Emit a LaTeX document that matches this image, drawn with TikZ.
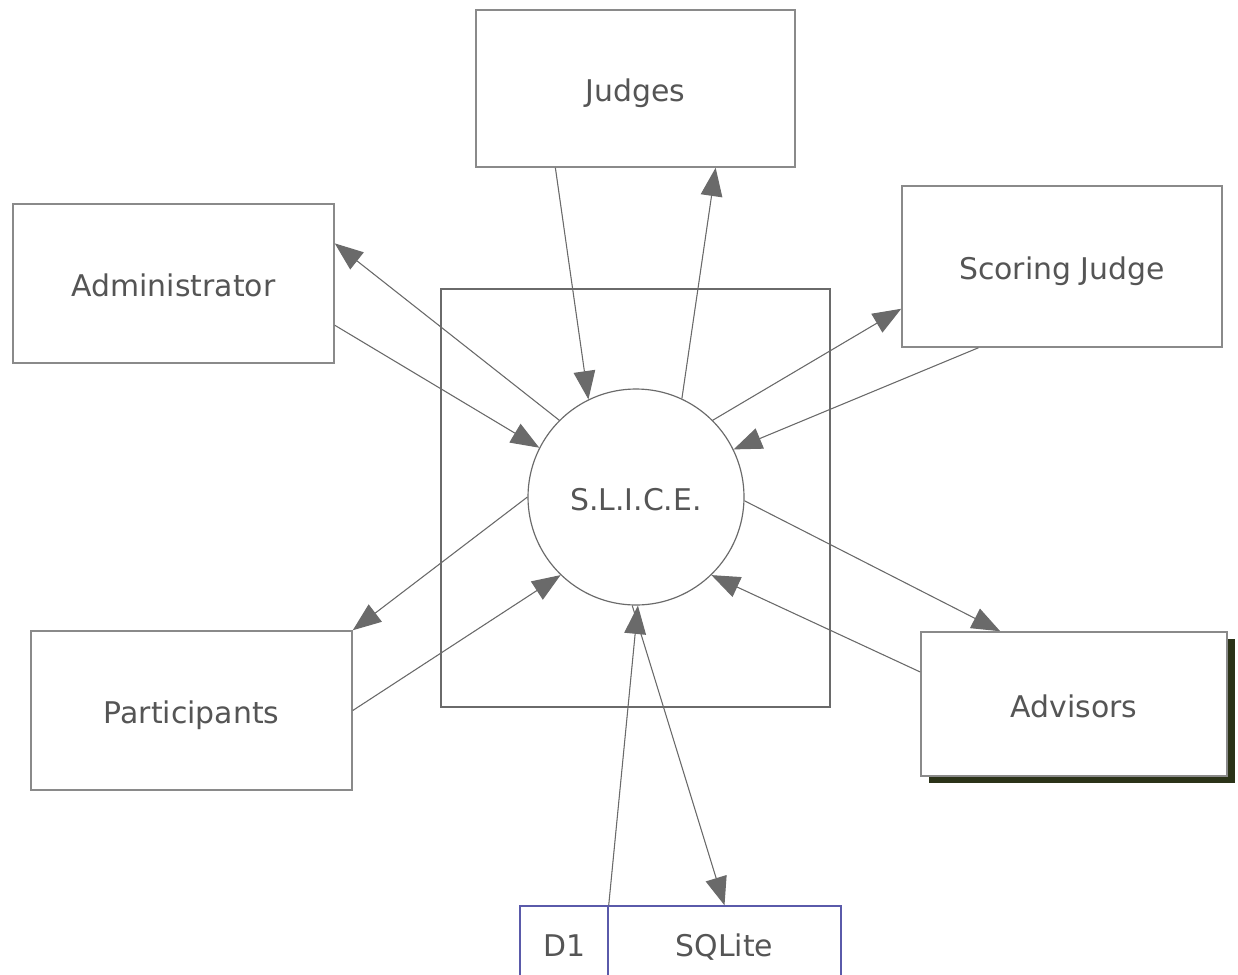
\documentclass[tikz,border=0pt]{standalone}
\usepackage{fontspec}
\setmainfont{DejaVu Sans}
\usetikzlibrary{arrows.meta,calc,shadows}
\definecolor{boxgray}{HTML}{8A8A8A}
\definecolor{txtgray}{HTML}{555555}
\definecolor{arrgray}{HTML}{6A6A6A}
\definecolor{dbblue}{HTML}{5A5AAA}
\definecolor{shadowcol}{HTML}{2B3318}
\begin{document}
\begin{tikzpicture}[x=0.03cm,y=-0.03cm,
  every node/.style={font=\fontsize{25.5}{30}\selectfont, text=txtgray, text height=25pt, text depth=2.5pt},
  ent/.style={draw=boxgray, line width=1.3pt, fill=white, inner sep=0pt},
  proc/.style={circle, draw=arrgray, line width=1pt, fill=white, inner sep=0pt, minimum size=216*0.03cm},
  flow/.style={draw=arrgray, line width=0.9pt, -{Triangle[length=0.85cm,width=0.65cm]}, fill=arrgray},
  store/.style={draw=dbblue, line width=1.2pt, inner sep=0pt}
]
\clip (0,0) rectangle (1238,974);
\fill[white] (0,0) rectangle (1238,974);

\node[ent, minimum width=389*0.03cm, minimum height=418*0.03cm, draw=arrgray] (sys) at (635.5,498) {};
\node[proc] (slice) at (636,497) {S.L.I.C.E.};

\node[ent, minimum width=319*0.03cm, minimum height=157*0.03cm] (judges) at (635.5,88.5) {Judges};
\node[ent, minimum width=321*0.03cm, minimum height=159*0.03cm] (admin) at (173.5,283.5) {Administrator};
\node[ent, minimum width=320*0.03cm, minimum height=161*0.03cm] (scoring) at (1062,266.5) {Scoring Judge};
\node[ent, minimum width=321*0.03cm, minimum height=159*0.03cm] (part) at (191.5,710.5) {Participants};
\node[ent, minimum width=306*0.03cm, minimum height=144*0.03cm,
  drop shadow={shadow xshift=8*0.03cm, shadow yshift=-7*0.03cm, fill=shadowcol, opacity=1}] (adv) at (1074,704) {Advisors};

\node[store, minimum width=88*0.03cm, minimum height=74*0.03cm] (d1) at (564,943) {D1};
\node[store, minimum width=233*0.03cm, minimum height=74*0.03cm] (sqlite) at (724.5,943) {SQLite};

% flows
\draw[flow] ($(judges.south west)!0.25!(judges.south east)$) -- (slice.116);
\draw[flow] (slice.65) -- ($(judges.south west)!0.75!(judges.south east)$);
\draw[flow] (slice.135) -- ($(admin.north east)!0.25!(admin.south east)$);
\draw[flow] ($(admin.north east)!0.76!(admin.south east)$) -- (slice.153);
\draw[flow] (slice.45) -- ($(scoring.north west)!0.76!(scoring.south west)$);
\draw[flow] ($(scoring.south west)!0.24!(scoring.south east)$) -- (slice.26);
\draw[flow] (slice.180) -- (part.north east);
\draw[flow] (part.east) -- (slice.226);
\draw[flow] (slice.358) -- ($(adv.north west)!0.26!(adv.north east)$);
\draw[flow] ($(adv.north west)!0.28!(adv.south west)$) -- (slice.314);
\draw[flow] (d1.north east) -- (slice.271);
\draw[flow] (slice.268) -- (sqlite.north);
\end{tikzpicture}
\end{document}
